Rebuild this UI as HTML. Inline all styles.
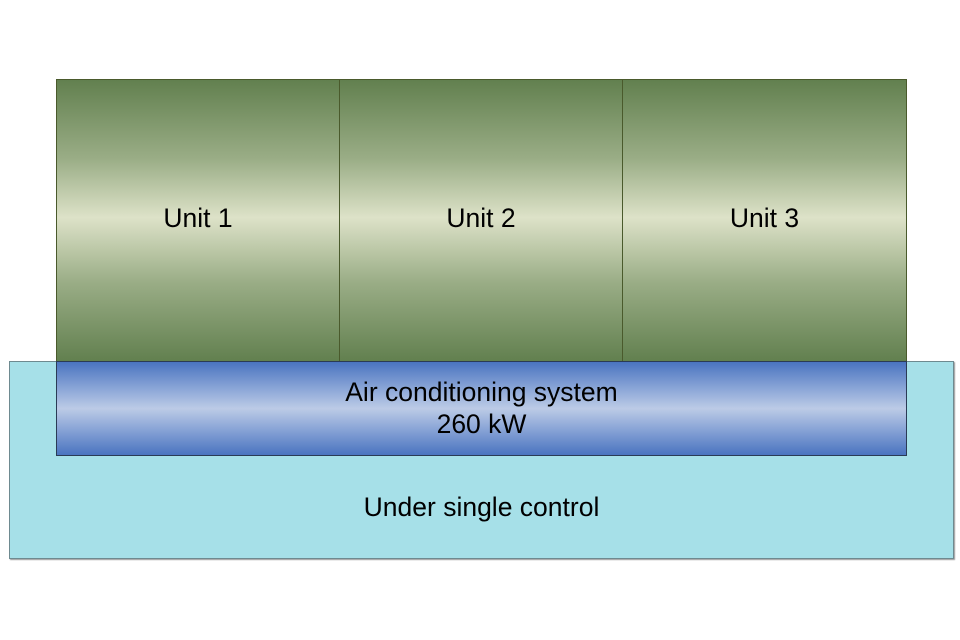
<!DOCTYPE html>
<html><head><meta charset="utf-8"><style>
html,body{margin:0;padding:0;background:#fff;width:960px;height:640px;overflow:hidden;}
body{position:relative;font-family:"Liberation Sans",Arial,sans-serif;color:#000;}
.abs{position:absolute;box-sizing:border-box;}
.outer{left:9px;top:361px;width:945px;height:198px;background:#a6e0e8;border:1px solid #6e8a90;box-shadow:1px 1px 1px #999;}
.unit{top:79px;height:283px;border:1px solid #4a5a2c;background:linear-gradient(to bottom,#62804f 0%,#9aad86 28%,#dde2c8 49%,#9aad86 72%,#62804f 100%);font-size:26.5px;text-align:center;line-height:32px;padding-top:122px;}
.blue{left:56px;top:361px;width:851px;height:95px;border:1px solid #2a3b55;background:linear-gradient(to bottom,#4a74c0 0%,#8ea8d8 30%,#bccbe6 50%,#8ea8d8 70%,#4a74c0 100%);text-align:center;font-size:26.5px;line-height:32px;padding-top:14px;}
.lbl{left:9px;top:491px;width:945px;text-align:center;font-size:26.5px;line-height:32px;}
</style></head><body>
<div class="abs outer"></div>
<div class="abs unit" style="left:56px;width:284px;">Unit 1</div>
<div class="abs unit" style="left:339px;width:284px;">Unit 2</div>
<div class="abs unit" style="left:622px;width:285px;">Unit 3</div>
<div class="abs blue">Air conditioning system<br>260 kW</div>
<div class="abs lbl">Under single control</div>
</body></html>
